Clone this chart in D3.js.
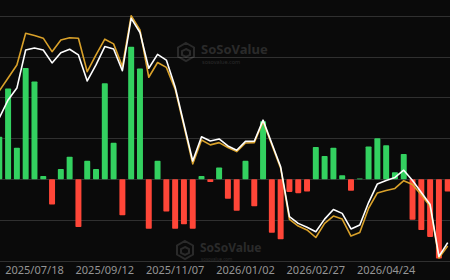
<!DOCTYPE html>
<html>
<head>
<meta charset="utf-8">
<script src="https://cdn.jsdelivr.net/npm/d3@7"></script>
<style>
  html, body { margin: 0; padding: 0; background: #0a0a0a; }
  svg { display: block; }
  .tick text { font-family: "Noto Sans", "Open Sans", sans-serif; }
</style>
</head>
<body>
<div id="chart"></div>
<script>
// weekly dates (categories)
var weeks = [
  "2025/06/20","2025/06/27","2025/07/04","2025/07/11","2025/07/18","2025/07/25","2025/08/01","2025/08/08",
  "2025/08/15","2025/08/22","2025/08/29","2025/09/05","2025/09/12","2025/09/19","2025/09/26","2025/10/03",
  "2025/10/10","2025/10/17","2025/10/24","2025/10/31","2025/11/07","2025/11/14","2025/11/21","2025/11/28",
  "2025/12/05","2025/12/12","2025/12/19","2025/12/26","2026/01/02","2026/01/09","2026/01/16","2026/01/23",
  "2026/01/30","2026/02/06","2026/02/13","2026/02/20","2026/02/27","2026/03/06","2026/03/13","2026/03/20",
  "2026/03/27","2026/04/03","2026/04/10","2026/04/17","2026/04/24","2026/05/01","2026/05/08","2026/05/15",
  "2026/05/22","2026/05/29","2026/06/05","2026/06/12"
];

// weekly net flow (bars)
var netFlow = [
  1.04, 2.22, 0.77, 2.72, 2.39, 0.08, -0.62, 0.25, 0.55, -1.17,
  0.45, 0.25, 2.35, 0.89, -0.88, 3.24, 2.71, -1.21, 0.45, -0.79,
  -1.21, -1.10, -1.21, 0.08, -0.07, 0.29, -0.48, -0.77, 0.45, -0.66,
  1.42, -1.31, -1.47, -0.31, -0.34, -0.30, 0.79, 0.57, 0.77, 0.10,
  -0.28, 0.02, 0.80, 1.00, 0.83, 0.17, 0.62, -0.99, -1.24, -1.41,
  -1.94, -0.30
];

// white line
var cumulative = [
  27.00, 27.88, 28.46, 30.32, 30.42, 30.32, 29.69, 30.19, 30.36, 30.08,
  28.81, 29.59, 30.49, 30.37, 29.31, 31.87, 31.18, 29.43, 30.11, 29.83,
  28.51, 26.70, 24.89, 26.08, 25.87, 25.97, 25.63, 25.42, 25.85, 25.86,
  26.89, 25.75, 24.61, 22.17, 21.84, 21.65, 21.43, 22.05, 22.52, 22.33,
  21.57, 21.76, 22.86, 23.77, 23.94, 24.09, 24.44, 23.94, 23.35, 22.76,
  20.22, 20.90
];

// orange line
var totalAssets = [
  28.32, 28.95, 29.59, 31.14, 31.03, 30.90, 30.24, 30.81, 30.92, 30.90,
  29.26, 30.08, 30.85, 30.62, 29.51, 32.00, 31.30, 28.99, 29.71, 29.47,
  28.41, 26.60, 24.75, 25.92, 25.68, 25.79, 25.55, 25.35, 25.77, 25.79,
  26.82, 25.68, 24.54, 22.04, 21.71, 21.52, 21.15, 21.84, 22.20, 22.05,
  21.22, 21.39, 22.58, 23.33, 23.45, 23.55, 23.93, 23.74, 23.23, 22.68,
  20.15, 20.73
];

var tickLabels = ["2025/07/18","2025/09/12","2025/11/07","2026/01/02","2026/02/27","2026/04/24"];
var gridValues = [-2, -1, 0, 1, 2, 3, 4];

var width = 450, height = 280;

var svg = d3.select("#chart").append("svg")
    .attr("width", width)
    .attr("height", height);

svg.append("rect")
    .attr("width", width)
    .attr("height", height)
    .attr("fill", "#0a0a0a");

var x = d3.scaleBand()
    .domain(weeks)
    .range([-5.1, 452.1])
    .paddingInner(0.32)
    .paddingOuter(0.16);

var y = d3.scaleLinear()
    .domain([-2, 4])
    .range([261, 15.7]);

var y2 = d3.scaleLinear()
    .domain([20, 32])
    .range([261, 15.7]);

// gridlines
svg.append("g")
    .selectAll("line")
    .data(gridValues)
    .enter().append("line")
    .attr("x1", 0)
    .attr("x2", width)
    .attr("y1", function(d) { return Math.round(y(d)) + 0.5; })
    .attr("y2", function(d) { return Math.round(y(d)) + 0.5; })
    .attr("stroke", "#303030")
    .attr("stroke-width", 1.2);

// watermarks (faint logo + name)
function watermark(cx, cy, nameSize, subSize, subGap) {
  var g = svg.append("g")
      .attr("transform", "translate(" + cx + "," + cy + ")")
      .attr("opacity", 0.22);
  g.append("path")
      .attr("d", "M0,-9 L8,-4.5 L8,4.5 L0,9 L-8,4.5 L-8,-4.5 Z M0,-3 L4,-1 L4,3 L0,5 L-4,3 L-4,-1 Z")
      .attr("fill", "none")
      .attr("stroke", "#9a9a9a")
      .attr("stroke-width", 2);
  g.append("text")
      .attr("x", 15)
      .attr("y", 2)
      .attr("fill", "#9a9a9a")
      .style("font-family", "Noto Sans, sans-serif")
      .style("font-size", nameSize + "px")
      .style("font-weight", "bold")
      .text("SoSoValue");
  g.append("text")
      .attr("x", 16)
      .attr("y", 2 + subGap)
      .attr("fill", "#9a9a9a")
      .style("font-family", "Noto Sans, sans-serif")
      .style("font-size", subSize + "px")
      .text("sosovalue.com");
}
watermark(186, 52, 13, 5.5, 10);
watermark(185, 250, 12, 4.5, 8.5);

// bars
svg.append("g")
    .selectAll("rect")
    .data(weeks)
    .enter().append("rect")
    .attr("x", function(d) { return x(d); })
    .attr("width", x.bandwidth())
    .attr("y", function(d, i) { return netFlow[i] >= 0 ? y(netFlow[i]) : y(0); })
    .attr("height", function(d, i) { return Math.abs(y(netFlow[i]) - y(0)); })
    .attr("rx", 0.8)
    .attr("fill", function(d, i) { return netFlow[i] >= 0 ? "#33d160" : "#ff4638"; });

// lines
var line = function(vals) {
  return d3.line()
    .x(function(d, i) { return x(weeks[i]) + x.bandwidth() / 2; })
    .y(function(d) { return y2(d); })(vals);
};

svg.append("path")
    .attr("d", line(totalAssets))
    .attr("fill", "none")
    .attr("stroke", "#d9a12a")
    .attr("stroke-width", 1.6)
    .attr("stroke-linejoin", "round");

svg.append("path")
    .attr("d", line(cumulative))
    .attr("fill", "none")
    .attr("stroke", "#ffffff")
    .attr("stroke-width", 1.6)
    .attr("stroke-linejoin", "round");

// x axis
var xAxis = d3.axisBottom(x)
    .tickValues(tickLabels)
    .tickSize(0)
    .tickPadding(0);

svg.append("g")
    .attr("transform", "translate(0,266)")
    .call(xAxis)
    .call(function(g) { g.select(".domain").remove(); })
    .selectAll("text")
    .attr("fill", "#959595")
    .attr("dy", "0.71em")
    .style("font-size", "11px");
</script>
</body>
</html>
